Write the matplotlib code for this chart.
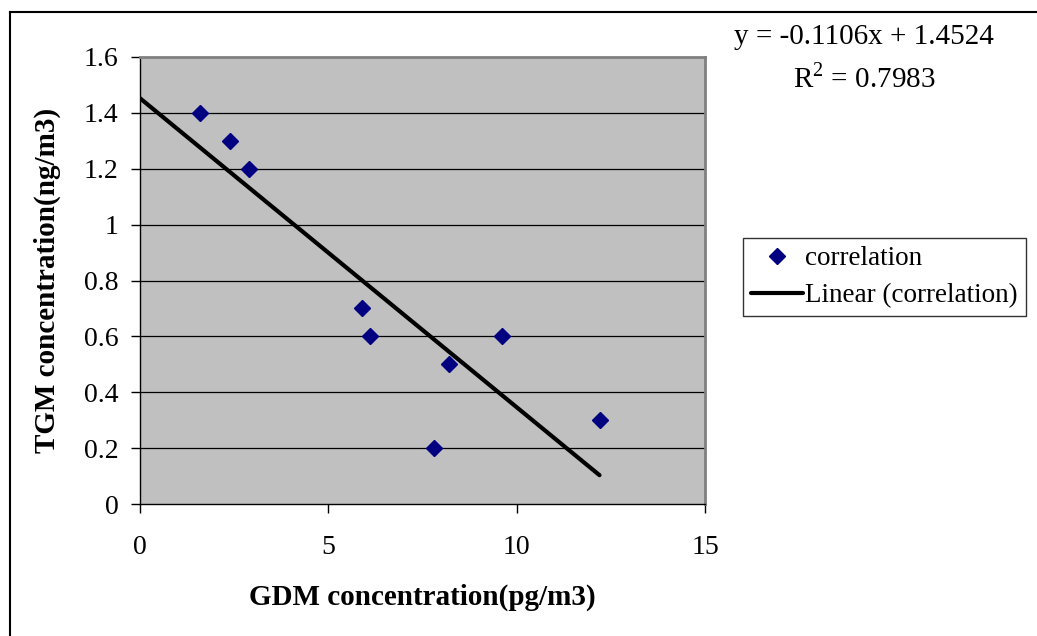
import matplotlib
matplotlib.use("Agg")
import matplotlib.pyplot as plt
from matplotlib.lines import Line2D
import numpy as np

gdm = [1.6, 2.4, 2.9, 5.9, 6.1, 8.2, 7.8, 9.6, 12.2]
tgm = [1.4, 1.3, 1.2, 0.7, 0.6, 0.5, 0.2, 0.6, 0.3]
slope = -0.1106
intercept = 1.4524
xticks = [0, 5, 10, 15]
yticks = [0, 0.2, 0.4, 0.6, 0.8, 1, 1.2, 1.4, 1.6]
ytick_labels = ["0", "0.2", "0.4", "0.6", "0.8", "1", "1.2", "1.4", "1.6"]

plt.rcParams['font.family'] = ['Liberation Serif', 'DejaVu Serif']
plt.rcParams['mathtext.fontset'] = 'custom'
plt.rcParams['mathtext.rm'] = 'Liberation Serif'
W, H = 1037, 636
fig = plt.figure(figsize=(W / 100, H / 100), dpi=100)
ax = fig.add_axes([140 / W, 1 - 504 / H, 565 / W, 447 / H])
ax.set_facecolor('#C0C0C0')
ax.set_xlim(0, 15)
ax.set_ylim(0, 1.6)
ax.set_yticks(yticks)
ax.set_yticklabels(ytick_labels)
ax.set_xticks(xticks)
for yv in yticks[1:-1]:
    ax.axhline(yv, color='black', lw=0.9, zorder=1)

xs = np.array([0, max(gdm)])
ax.plot(xs, slope * xs + intercept, color='black', lw=3, solid_capstyle='round',
        zorder=3, label='Linear (correlation)')
ax.plot(gdm, tgm, linestyle='none', marker='D', color='#000080', markersize=8,
        zorder=4, label='correlation')

for s in ['top', 'right']:
    ax.spines[s].set_color('#808080')
    ax.spines[s].set_linewidth(2)
for s in ['left', 'bottom']:
    ax.spines[s].set_color('black')
    ax.spines[s].set_linewidth(1)
ax.tick_params(direction='out', length=6.5, width=1, labelsize=20, colors='black')
ax.tick_params(axis='x', pad=16)
ax.tick_params(axis='y', pad=9)

ax.set_xlabel('GDM concentration(pg/m3)', fontsize=21, fontweight='bold')
ax.set_ylabel('TGM concentration(ng/m3)', fontsize=21, fontweight='bold')
ax.xaxis.label.set_va('center')
ax.yaxis.label.set_va('center')
ax.xaxis.set_label_coords(0.5, (504 - 597) / 447)
ax.yaxis.set_label_coords((47 - 140) / 565, 0.5)

fig.text(864 / W, 1 - 37 / H, 'y = -0.1106x + 1.4524', ha='center', va='center', fontsize=21)
fig.text(864 / W, 1 - 87 / H, 'R$^{2}$ = 0.7983', ha='center', va='baseline', fontsize=21)

h, l = ax.get_legend_handles_labels()
leg = fig.legend([h[1], h[0]], [l[1], l[0]], loc='upper left',
                 bbox_to_anchor=(743 / W, 1 - 238 / H), fontsize=19.5,
                 frameon=True, fancybox=False, handlelength=1.9, handletextpad=0.1,
                 borderpad=0.3, labelspacing=0.45, borderaxespad=0)
leg.get_frame().set_edgecolor('black')
leg.get_frame().set_linewidth(1)

fig.add_artist(Line2D([10 / W, 10 / W], [0, 1 - 12 / H], transform=fig.transFigure,
                      color='black', lw=1.5))
fig.add_artist(Line2D([10 / W, 1], [1 - 12 / H, 1 - 12 / H], transform=fig.transFigure,
                      color='black', lw=1.5))

fig.savefig('out.png', dpi=100)
